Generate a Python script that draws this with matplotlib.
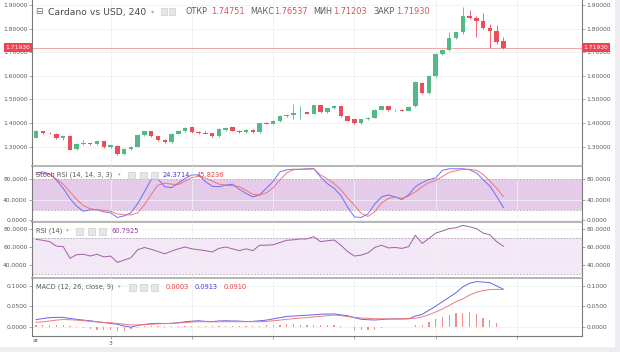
import matplotlib
matplotlib.use("Agg")
import matplotlib.pyplot as plt
from matplotlib.patches import Rectangle
from matplotlib.transforms import blended_transform_factory
import numpy as np

# ---------------- data ----------------
opens = [1.338, 1.364, 1.359, 1.355, 1.338, 1.347, 1.288, 1.312, 1.314, 1.310,
         1.322, 1.297, 1.303, 1.270, 1.290, 1.300, 1.350, 1.365, 1.345, 1.330,
         1.318, 1.355, 1.365, 1.381, 1.362, 1.358, 1.356, 1.343, 1.370, 1.382,
         1.368, 1.360, 1.372, 1.360, 1.402, 1.397, 1.408, 1.430, 1.436, 1.441,
         1.445, 1.440, 1.475, 1.447, 1.462, 1.472, 1.428, 1.415, 1.398, 1.415,
         1.423, 1.457, 1.470, 1.453, 1.456, 1.452, 1.472, 1.571, 1.526, 1.599,
         1.692, 1.709, 1.759, 1.784, 1.853, 1.845, 1.833, 1.801, 1.791, 1.7475]
closes = [1.368, 1.357, 1.356, 1.338, 1.343, 1.287, 1.313, 1.314, 1.310, 1.322,
          1.297, 1.305, 1.268, 1.290, 1.300, 1.350, 1.365, 1.345, 1.328, 1.318,
          1.355, 1.368, 1.378, 1.362, 1.358, 1.355, 1.343, 1.375, 1.380, 1.368,
          1.360, 1.372, 1.360, 1.398, 1.397, 1.408, 1.430, 1.435, 1.442, 1.442,
          1.440, 1.475, 1.447, 1.462, 1.472, 1.428, 1.410, 1.398, 1.415, 1.423,
          1.457, 1.470, 1.453, 1.456, 1.452, 1.468, 1.575, 1.526, 1.599, 1.692,
          1.709, 1.759, 1.784, 1.853, 1.845, 1.833, 1.801, 1.791, 1.745, 1.7193]
highs = [1.372, 1.368, 1.361, 1.357, 1.347, 1.349, 1.316, 1.330, 1.317, 1.325,
         1.324, 1.308, 1.305, 1.292, 1.303, 1.352, 1.368, 1.367, 1.347, 1.332,
         1.357, 1.371, 1.381, 1.384, 1.364, 1.366, 1.358, 1.377, 1.383, 1.384,
         1.370, 1.374, 1.374, 1.401, 1.404, 1.411, 1.433, 1.440, 1.480, 1.470,
         1.448, 1.478, 1.478, 1.465, 1.475, 1.474, 1.431, 1.417, 1.418, 1.426,
         1.460, 1.474, 1.472, 1.460, 1.459, 1.470, 1.580, 1.574, 1.602, 1.695,
         1.712, 1.784, 1.786, 1.890, 1.879, 1.853, 1.865, 1.819, 1.815, 1.7654]
lows = [1.335, 1.354, 1.352, 1.333, 1.330, 1.284, 1.285, 1.308, 1.306, 1.307,
        1.294, 1.294, 1.265, 1.266, 1.287, 1.297, 1.347, 1.342, 1.325, 1.315,
        1.315, 1.352, 1.362, 1.359, 1.355, 1.352, 1.340, 1.340, 1.367, 1.365,
        1.357, 1.357, 1.357, 1.357, 1.394, 1.394, 1.405, 1.427, 1.415, 1.415,
        1.437, 1.437, 1.444, 1.444, 1.459, 1.425, 1.407, 1.395, 1.395, 1.412,
        1.420, 1.454, 1.450, 1.450, 1.449, 1.449, 1.468, 1.523, 1.523, 1.596,
        1.688, 1.706, 1.757, 1.778, 1.842, 1.766, 1.799, 1.717, 1.735, 1.7120]

stoch_k = [92, 94, 90, 78, 62, 42, 27, 17, 20, 20, 16, 14, 5, 8, 14, 32, 55, 79, 80, 65,
           63, 72, 81, 88, 88, 75, 66, 65, 68, 70, 60, 52, 45, 49, 62, 75, 94, 98, 99, 99,
           100, 100, 84, 71, 62, 48, 25, 6, 5, 12, 31, 45, 49, 45, 40, 49, 65, 73, 79, 82,
           97, 100, 100, 100, 98, 92, 79, 66, 46, 24.3714]
stoch_d = [88, 91, 89, 80, 70, 55, 40, 28, 22, 20, 19, 17, 12, 10, 10, 14, 30, 50, 68, 72,
           70, 69, 76, 83, 85, 82, 76, 70, 68, 67, 65, 58, 50, 49, 53, 63, 78, 92, 98, 99,
           99, 100, 88, 80, 71, 59, 43, 29, 13, 7, 16, 33, 42, 45, 42, 47, 55, 65, 73, 77,
           85, 93, 96, 99, 99, 97, 89, 76, 62, 45.8236]
rsi = [68.5, 67.5, 66, 61, 60.5, 47.5, 51.5, 52, 50, 52, 49, 50, 43, 45.5, 48, 57, 59.5, 57.5, 55, 52.5,
       55.5, 58, 60, 58, 57, 56, 54.5, 58.5, 60, 58, 56, 58, 56, 62, 62, 62.5, 65, 67.5, 68, 69,
       69, 71.5, 66, 67, 67.8, 62, 55, 50, 51, 53.5, 59.5, 62, 59, 59.5, 58.5, 60.4, 73, 64, 69.5, 75.5,
       77.8, 80.5, 81.5, 84, 82.5, 80.5, 75.5, 73.5, 66, 60.7925]
macd = [0.017, 0.020, 0.022, 0.0228, 0.0228, 0.020, 0.018, 0.016, 0.0145, 0.012,
        0.010, 0.008, 0.006, 0.0017, -0.0012, 0.003, 0.0057, 0.0075, 0.0082, 0.0078,
        0.008, 0.010, 0.012, 0.0135, 0.0145, 0.013, 0.0125, 0.014, 0.0145, 0.014,
        0.0137, 0.0125, 0.013, 0.0145, 0.016, 0.019, 0.022, 0.025, 0.026, 0.027,
        0.028, 0.029, 0.0305, 0.031, 0.031, 0.029, 0.0268, 0.022, 0.018, 0.017,
        0.0163, 0.0175, 0.0188, 0.0188, 0.0188, 0.019, 0.026, 0.030, 0.040, 0.050,
        0.061, 0.072, 0.083, 0.097, 0.106, 0.110, 0.109, 0.1073, 0.0995, 0.0913]
signal = [0.0106, 0.012, 0.014, 0.016, 0.0175, 0.017, 0.016, 0.0147, 0.013, 0.0115,
          0.0106, 0.0098, 0.008, 0.006, 0.0045, 0.0041, 0.005, 0.006, 0.007, 0.0075,
          0.0082, 0.009, 0.010, 0.0112, 0.0122, 0.012, 0.0118, 0.012, 0.0122, 0.0122,
          0.0122, 0.0122, 0.0122, 0.0122, 0.013, 0.0145, 0.016, 0.018, 0.0196, 0.021,
          0.022, 0.024, 0.025, 0.027, 0.0285, 0.027, 0.0244, 0.023, 0.0212, 0.0204,
          0.0196, 0.0192, 0.0188, 0.019, 0.0196, 0.0204, 0.0204, 0.024, 0.029, 0.036,
          0.043, 0.052, 0.061, 0.068, 0.077, 0.084, 0.088, 0.0905, 0.0911, 0.0910]
hist = [0.004, 0.004, 0.004, 0.004, 0.003, 0.002, 0.001, -0.002, -0.006, -0.007,
        -0.007, -0.008, -0.010, -0.011, -0.006, -0.002, 0.001, 0.002, 0.002, 0.002,
        0.001, 0.001, 0.002, 0.002, 0.002, 0.001, 0.001, 0.002, 0.002, 0.002,
        0.002, 0.001, 0.001, 0.002, 0.003, 0.004, 0.005, 0.006, 0.006, 0.005,
        0.005, 0.004, 0.004, 0.003, 0.003, 0.002, 0.0, -0.007, -0.008, -0.008,
        -0.007, -0.003, -0.001, -0.0005, -0.0005, -0.0005, 0.004, 0.005, 0.012, 0.018,
        0.0244, 0.0285, 0.0325, 0.034, 0.036, 0.031, 0.0204, 0.0163, 0.0098, 0.0003]

price_ticks = [1.3, 1.4, 1.5, 1.6, 1.7, 1.8, 1.9]
stoch_ticks = [0, 40, 80]
rsi_ticks = [40, 60, 80]
macd_ticks = [0.0, 0.05, 0.10]
time_tick_pos = [11, 23, 35, 47, 59, 71]
time_tick_labels = ["3", "", "", "", "", ""]
last_price = 1.7193

# ---------------- figure ----------------
W, H = 620, 352
fig = plt.figure(figsize=(W / 100, H / 100), dpi=100)
fig.patch.set_facecolor('#eceef2')
fig.add_artist(Rectangle((0, 5 / H), 615 / W, 347 / H, transform=fig.transFigure,
                         facecolor='white', edgecolor='none', zorder=-10))

def px_ax(x0, y0, x1, y1):
    return fig.add_axes([x0 / W, 1 - y1 / H, (x1 - x0) / W, (y1 - y0) / H])

ax_main = px_ax(32, 0, 582, 166)
ax_st = px_ax(32, 166, 582, 222)
ax_rsi = px_ax(32, 222, 582, 278)
ax_macd = px_ax(32, 278, 582, 336)
axes = [ax_main, ax_st, ax_rsi, ax_macd]

GRID = '#eef0f3'
LBL = '#5a5a5a'
for ax in axes:
    ax.set_facecolor('none')
    ax.set_xlim(-0.6, 80.6)
    ax.set_axisbelow(True)
    for s in ['left', 'right']:
        ax.spines[s].set_color('#7a7a7a')
        ax.spines[s].set_linewidth(0.8)
    ax.spines['top'].set_visible(False)
    ax.spines['bottom'].set_color('#b5b5b5')
    ax.spines['bottom'].set_linewidth(1.4)
    ax.set_xticks(time_tick_pos)
    ax.grid(True, color=GRID, lw=0.6)
    ax.tick_params(axis='y', which='both', left=True, right=True, labelleft=True,
                   labelright=True, length=2, width=0.5, color='#888888',
                   labelsize=4.3, labelcolor=LBL, pad=1.2)
    ax.tick_params(axis='x', length=0, labelbottom=False)

# ---- main candles ----
x = np.arange(len(opens))
o = np.array(opens); c = np.array(closes)
up = c >= o
col = np.where(up, '#53b987', '#eb4d5c')
ax_main.vlines(x, lows, highs, colors=col, lw=0.6, zorder=2)
body_h = np.maximum(np.abs(c - o), 0.0018)
ax_main.bar(x, body_h, bottom=np.minimum(o, c), width=0.66, color=col, zorder=3, linewidth=0)
ax_main.set_ylim(1.2178, 1.9212)
ax_main.set_yticks(price_ticks)
ax_main.set_yticklabels([f"{v:.5f}" for v in price_ticks])
ax_main.axhline(last_price, color='#f4a3a8', lw=0.7, zorder=1)
tr = blended_transform_factory(ax_main.transAxes, ax_main.transData)
for xa, ha in [(-0.003, 'right'), (1.003, 'left')]:
    ax_main.text(xa, last_price, f"{last_price:.5f}", transform=tr, ha=ha, va='center',
                 fontsize=4.3, color='white', clip_on=False, zorder=10,
                 bbox=dict(boxstyle='square,pad=0.35', fc='#ef4352', ec='none'))

# ---- stoch rsi ----
ax_st.axhspan(20, 80, color='#e4cbea', zorder=0, lw=0)
for lv in (20, 80):
    ax_st.axhline(lv, color='#a896ab', lw=0.5, ls=(0, (2.5, 2)), zorder=1)
ax_st.plot(x, stoch_k, color='#6464f2', lw=0.7, alpha=0.9, zorder=3)
ax_st.plot(x, stoch_d, color='#f26a6a', lw=0.7, alpha=0.9, zorder=3)
ax_st.set_ylim(-3.9, 105.4)
ax_st.set_yticks(stoch_ticks)
ax_st.set_yticklabels([f"{v:.4f}" for v in stoch_ticks])

# ---- rsi ----
ax_rsi.axhspan(30, 70, color='#f3e8f5', zorder=0, lw=0)
for lv in (30, 70):
    ax_rsi.axhline(lv, color='#a896ab', lw=0.5, ls=(0, (2.5, 2)), zorder=1)
ax_rsi.plot(x, rsi, color='#a45cac', lw=0.7, zorder=3)
ax_rsi.set_ylim(25.6, 87.8)
ax_rsi.set_yticks(rsi_ticks)
ax_rsi.set_yticklabels([f"{v:.4f}" for v in rsi_ticks])

# ---- macd ----
ax_macd.bar(x, hist, width=0.18, color='#f28d8d', zorder=2, linewidth=0)
ax_macd.plot(x, macd, color='#6464ea', lw=0.7, zorder=3)
ax_macd.plot(x, signal, color='#f07a7a', lw=0.7, zorder=3)
ax_macd.set_ylim(-0.0227, 0.1188)
ax_macd.set_yticks(macd_ticks)
ax_macd.set_yticklabels([f"{v:.4f}" for v in macd_ticks])
ax_macd.spines['bottom'].set_color('#7a7a7a')
ax_macd.spines['bottom'].set_linewidth(0.8)
ax_macd.tick_params(axis='x', length=2, width=0.5, color='#888888', labelbottom=True,
                    labelsize=4.3, labelcolor=LBL, pad=1.5)
ax_macd.set_xticklabels(time_tick_labels)

# ---------------- header texts ----------------
def ftext(px, py, s, size, color, **kw):
    fig.text(px / W, 1 - py / H, s, fontsize=size, color=color, va='center', ha='left', **kw)

def fbox(px, py, w, h):
    fig.add_artist(Rectangle((px / W, 1 - (py + h) / H), w / W, h / H, transform=fig.transFigure,
                             facecolor='#e6e6e6', edgecolor='#c4c4c4', lw=0.4, zorder=5))

ftext(35, 12, "⊟", 6.5, '#6a6a6a')
ftext(48, 12, "Cardano vs USD, 240", 6.7, '#4a4a4a')
ftext(151, 12, "▾", 4.5, '#aaaaaa')
fbox(161, 8, 6, 7); fbox(169, 8, 6, 7)
red = '#e5495a'
for px, s, colr in [(186, "ОТКР", LBL), (211, "1.74751", red), (250, "МАКС", LBL),
                    (274, "1.76537", red), (313, "МИН", LBL), (333, "1.71203", red),
                    (373, "ЗАКР", LBL), (396, "1.71930", red)]:
    ftext(px, 12, s, 5.9, colr)

# indicator titles
ftext(36, 175, "Stoch RSI (14, 14, 3, 3)", 4.8, LBL)
ftext(118, 175, "▾", 3.8, '#aaaaaa')
for bx in (128, 140, 151):
    fbox(bx, 171.5, 7, 7)
ftext(163, 175, "24.3714", 4.8, '#3b3bf0')
ftext(197, 175, "45.8236", 4.8, '#f03c3c')

ftext(36, 231, "RSI (14)", 4.8, LBL)
ftext(66, 231, "▾", 3.8, '#aaaaaa')
for bx in (76, 88, 99):
    fbox(bx, 227.5, 7, 7)
ftext(112, 231, "60.7925", 4.8, '#9b3aa6')

ftext(36, 287, "MACD (12, 26, close, 9)", 4.8, LBL)
ftext(118, 287, "▾", 3.8, '#aaaaaa')
for bx in (129, 140, 151):
    fbox(bx, 283.5, 7, 7)
ftext(166, 287, "0.0003", 4.8, '#f03c3c')
ftext(195, 287, "0.0913", 4.8, '#3b3bf0')
ftext(224, 287, "0.0910", 4.8, '#f03c3c')

ftext(33, 341, "ar", 4.3, LBL)

fig.savefig("out.png", dpi=100, facecolor=fig.get_facecolor())
